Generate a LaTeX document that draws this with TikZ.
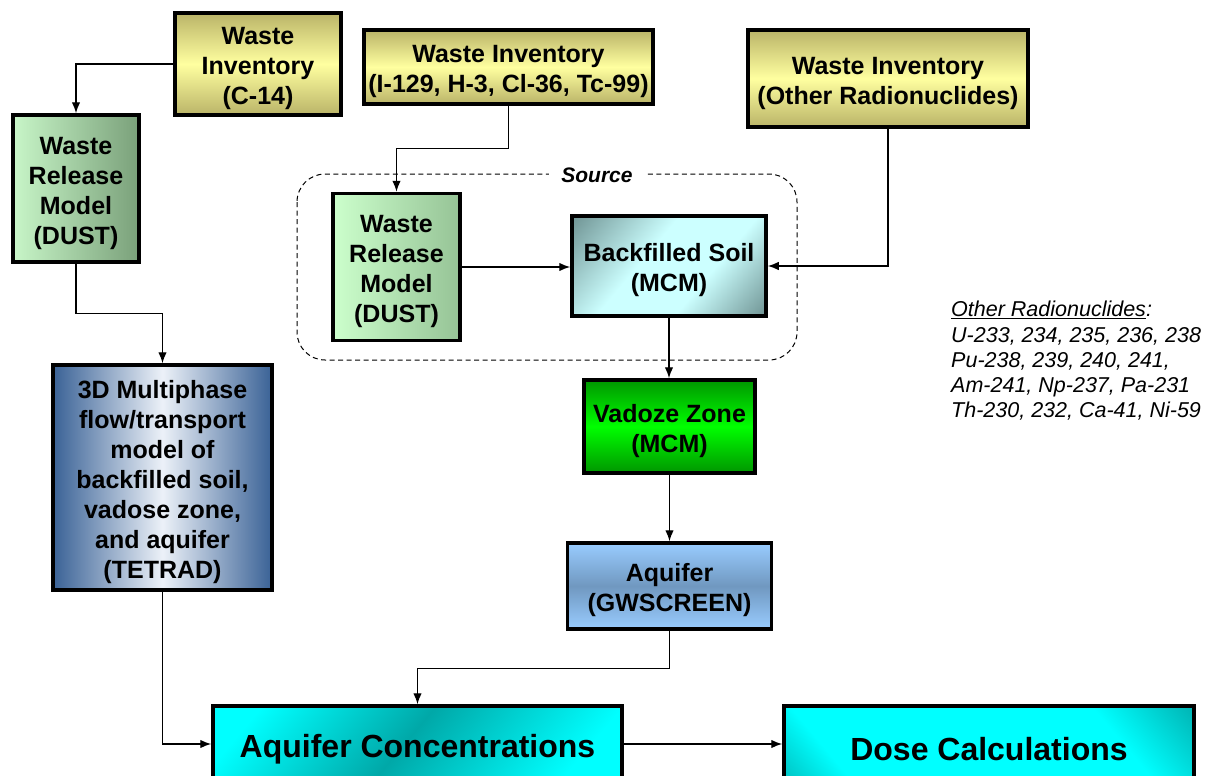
\documentclass[tikz,border=0pt]{standalone}
\usepackage{fontspec}
\setmainfont{Liberation Sans}
\usetikzlibrary{arrows.meta}
\definecolor{yelD}{RGB}{186,180,104}
\definecolor{yelL}{RGB}{255,255,160}
\definecolor{grnL}{RGB}{200,246,200}
\definecolor{grnD}{RGB}{122,160,122}
\definecolor{grnL2}{RGB}{204,255,204}
\definecolor{grnD2}{RGB}{150,195,150}
\definecolor{slateD}{RGB}{72,102,102}
\definecolor{cyanL}{RGB}{204,255,255}
\definecolor{vzD}{RGB}{0,150,0}
\definecolor{vzL}{RGB}{0,255,0}
\definecolor{aqL}{RGB}{153,204,255}
\definecolor{aqD}{RGB}{112,152,192}
\definecolor{tetD}{RGB}{58,98,150}
\definecolor{tetL}{RGB}{236,241,248}
\definecolor{cyB}{RGB}{0,255,255}
\definecolor{tealD}{RGB}{0,168,168}
\definecolor{tealDD}{RGB}{0,105,105}
\pgfdeclarehorizontalshading{soilsh}{100bp}{color(0bp)=(slateD); color(15bp)=(slateD!70!cyanL); color(42bp)=(cyanL); color(62bp)=(cyanL); color(85bp)=(slateD!70!cyanL); color(100bp)=(slateD)}
\pgfdeclarehorizontalshading{concsh}{100bp}{color(0bp)=(cyB); color(22bp)=(cyB); color(48bp)=(tealD); color(76bp)=(cyB); color(100bp)=(cyB)}
\pgfdeclarehorizontalshading{dosesh}{100bp}{color(0bp)=(tealDD); color(25bp)=(cyB); color(70bp)=(cyB); color(100bp)=(tealDD)}
\newcommand\firstlinestrut{\rule{0pt}{26.5pt}}
\begin{document}
\begin{tikzpicture}[x=1pt,y=-1pt,
  box/.style={draw=black, line width=3.5pt, align=center, inner sep=0pt,
    font=\bfseries\fontsize{25}{30}\selectfont},
  inv/.style={box, top color=yelD, bottom color=yelD, middle color=yelL},
  relA/.style={box, left color=grnL, right color=grnD},
  relB/.style={box, left color=grnL2, right color=grnD2},
  soil/.style={box, shade, shading=soilsh, shading angle=-40},
  vz/.style={box, top color=vzD, bottom color=vzD, middle color=vzL},
  aq/.style={box, top color=aqL, bottom color=aqL, middle color=aqD},
  tet/.style={box, left color=tetD, right color=tetD, middle color=tetL},
  big/.style={box, font=\bfseries\fontsize{32}{38}\selectfont,
    execute at begin node={\rule{0pt}{33pt}}},
  conc/.style={big, shade, shading=concsh, shading angle=-40},
  dose/.style={big, shade, shading=dosesh, shading angle=40},
  conn/.style={line width=1.4pt, -{Latex[length=11pt,width=8.5pt]}},
  srcbox/.style={draw=black, line width=1pt, dash pattern=on 5pt off 3.5pt, rounded corners=28pt},
]
\clip (0,0) rectangle (1208,776);
\fill[white] (0,0) rectangle (1208,776);

% dashed source region
\draw[srcbox] (297,174) rectangle (797,360);
\node[fill=white, inner xsep=12pt, inner ysep=2pt, font=\bfseries\itshape\fontsize{21}{25}\selectfont] (srclbl) at (597,175) {Source};

% boxes
\node[inv, minimum width=166pt, minimum height=102pt] (invC) at (258,64) {\firstlinestrut Waste\\Inventory\\(C-14)};
\node[relA, minimum width=126pt, minimum height=147pt] (relL) at (76,188.5) {\firstlinestrut Waste\\Release\\Model\\(DUST)};
\node[inv, minimum width=289pt, minimum height=74pt] (invI) at (508.5,67) {\firstlinestrut Waste Inventory\\(I-129, H-3, Cl-36, Tc-99)};
\node[inv, minimum width=280pt, minimum height=97pt] (invO) at (888,78.5) {\firstlinestrut Waste Inventory\\(Other Radionuclides)};
\node[relB, minimum width=127pt, minimum height=147pt] (relR) at (396.5,267) {\firstlinestrut Waste\\Release\\Model\\(DUST)};
\node[soil, minimum width=194pt, minimum height=100pt] (soil) at (669,266) {\firstlinestrut Backfilled Soil\\(MCM)};
\node[vz, minimum width=171pt, minimum height=93pt] (vz) at (669.5,426.5) {\firstlinestrut Vadoze Zone\\(MCM)};
\node[aq, minimum width=204pt, minimum height=86pt] (aq) at (669.5,586) {\firstlinestrut Aquifer\\(GWSCREEN)};
\node[tet, minimum width=219pt, minimum height=225pt] (tet) at (162.5,477.5) {\firstlinestrut 3D Multiphase\\flow/transport\\model of\\backfilled soil,\\vadose zone,\\and aquifer\\(TETRAD)};
\node[conc, minimum width=409pt, minimum height=76pt] (conc) at (417.5,744) {Aquifer Concentrations};
\node[dose, minimum width=410pt, minimum height=76pt] (dose) at (989,744) {Dose Calculations};

% note
\node[anchor=north west, align=left, inner sep=0pt, font=\itshape\fontsize{21.5}{25.3}\selectfont] (note) at (951,301)
  {\underline{Other Radionuclides}:\\U-233, 234, 235, 236, 238\\Pu-238, 239, 240, 241,\\Am-241, Np-237, Pa-231\\Th-230, 232, Ca-41, Ni-59};

% connectors
\draw[conn] (invC.west) -| (relL.north);
\draw[conn] (invI.south) -- ++(0,43) -| (relR.north);
\draw[conn] (relR.east) -- (relR.east -| soil.west);
\draw[conn] (invO.south) |- (soil.east);
\draw[conn] (soil.south) -- (soil.south |- vz.north);
\draw[conn] (vz.south) -- (vz.south |- aq.north);
\draw[conn] (aq.south) -- ++(0,38) -| (conc.north);
\draw[conn] (relL.south) -- ++(0,50) -| (tet.north);
\draw[conn] (tet.south) |- (conc.west);
\draw[conn] (conc.east) -- (dose.west);
\end{tikzpicture}
\end{document}
